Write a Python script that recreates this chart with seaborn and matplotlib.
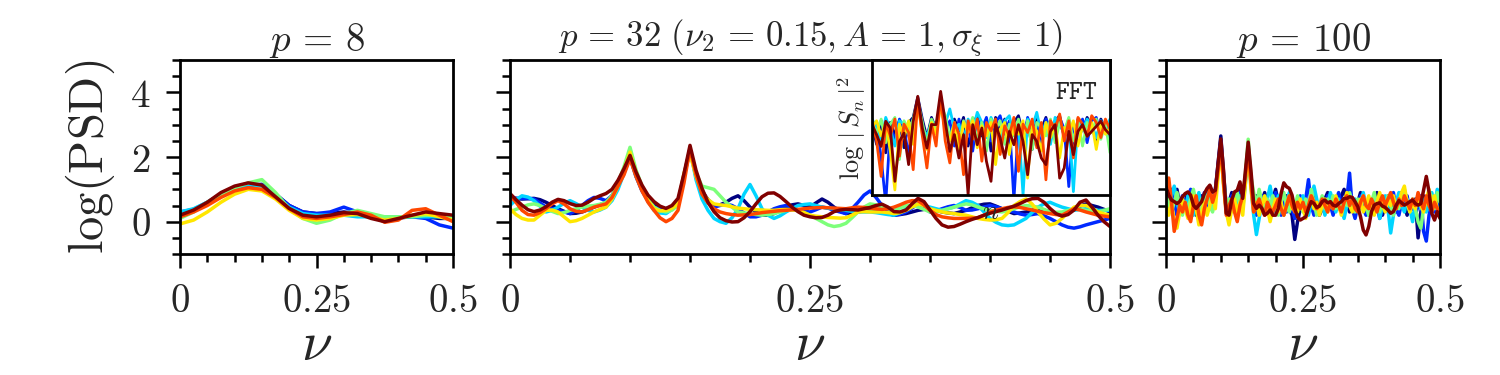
import numpy as np
import pandas as pd
import matplotlib
matplotlib.use("Agg")
import matplotlib.pyplot as plt
from matplotlib.ticker import FixedLocator
import seaborn as sns

sns.set_theme(style="ticks")
plt.rcParams["mathtext.fontset"] = "cm"
plt.rcParams["font.family"] = ["DejaVu Serif"]

# ---------------- data ----------------
SERIES = ["r1", "r2", "r3", "r4", "r5", "r6", "r7"]   # 7 realisations (jet colours)

# p = 8 panel
NU8 = [0.0, 0.025, 0.05, 0.075, 0.1, 0.125, 0.15, 0.175, 0.2, 0.225, 0.25,
       0.275, 0.3, 0.325, 0.35, 0.375, 0.4, 0.425, 0.45, 0.475, 0.5]
P8_R1 = [0.25, 0.35, 0.55, 0.85, 1.05, 1.15, 1.15, 0.85, 0.5, 0.3, 0.25, 0.25, 0.3, 0.25, 0.15, 0.1, 0.12, 0.15, 0.15, 0.1, 0.1]
P8_R2 = [0.3, 0.38, 0.6, 0.85, 1.0, 1.1, 1.15, 0.85, 0.5, 0.3, 0.25, 0.3, 0.45, 0.3, 0.15, 0.1, 0.12, 0.15, 0.1, -0.1, -0.2]
P8_R3 = [0.3, 0.4, 0.6, 0.85, 1.05, 1.15, 1.1, 0.8, 0.45, 0.25, 0.2, 0.2, 0.2, 0.15, 0.15, 0.15, 0.15, 0.15, 0.15, 0.15, 0.15]
P8_R4 = [0.1, 0.3, 0.6, 0.85, 1.05, 1.2, 1.3, 0.9, 0.4, 0.1, -0.05, 0.05, 0.25, 0.35, 0.25, 0.15, 0.15, 0.15, 0.2, 0.2, 0.1]
P8_R5 = [-0.07, 0.05, 0.3, 0.6, 0.85, 1.0, 0.95, 0.7, 0.35, 0.1, 0.05, 0.1, 0.2, 0.22, 0.15, 0.05, 0.1, 0.2, 0.25, 0.15, 0.05]
P8_R6 = [0.15, 0.3, 0.5, 0.75, 0.95, 1.05, 1.0, 0.75, 0.4, 0.15, 0.1, 0.15, 0.22, 0.3, 0.2, -0.02, 0.05, 0.35, 0.4, 0.2, 0.0]
P8_R7 = [0.2, 0.36, 0.6, 0.9, 1.1, 1.2, 1.13, 0.77, 0.41, 0.2, 0.15, 0.2, 0.28, 0.25, 0.1, 0.0, 0.1, 0.2, 0.3, 0.25, 0.2]

# p = 32 panel (grid step 0.005)
NU32 = np.round(np.arange(101) * 0.005, 3)
P32_R1 = [0.75, 0.72, 0.7, 0.71, 0.72, 0.68, 0.6, 0.5, 0.4, 0.32,
          0.25, 0.26, 0.3, 0.37, 0.45, 0.52, 0.6, 0.8, 1.15, 1.55,
          2.0, 1.45, 1.0, 0.7, 0.5, 0.43, 0.4, 0.47, 0.6, 1.45,
          2.25, 1.45, 0.95, 0.68, 0.5, 0.52, 0.6, 0.72, 0.8, 0.65,
          0.45, 0.3, 0.2, 0.2, 0.25, 0.35, 0.45, 0.52, 0.55, 0.5,
          0.45, 0.58, 0.7, 0.6, 0.45, 0.33, 0.25, 0.27, 0.3, 0.33,
          0.35, 0.33, 0.3, 0.25, 0.2, 0.22, 0.25, 0.3, 0.35, 0.38,
          0.4, 0.35, 0.3, 0.27, 0.25, 0.3, 0.35, 0.43, 0.5, 0.54,
          0.55, 0.48, 0.4, 0.32, 0.25, 0.27, 0.3, 0.35, 0.4, 0.36,
          0.3, 0.25, 0.2, 0.3, 0.4, 0.48, 0.55, 0.5, 0.45, 0.38,
          0.3]
P32_R2 = [0.7, 0.72, 0.72, 0.72, 0.7, 0.58, 0.45, 0.4, 0.35, 0.3,
          0.25, 0.35, 0.5, 0.65, 0.75, 0.72, 0.65, 0.8, 1.15, 1.55,
          2.0, 1.4, 0.95, 0.65, 0.45, 0.38, 0.35, 0.42, 0.55, 1.4,
          2.2, 1.4, 0.9, 0.6, 0.45, 0.5, 0.55, 0.5, 0.4, 0.27,
          0.15, 0.15, 0.2, 0.3, 0.4, 0.46, 0.5, 0.45, 0.35, 0.32,
          0.3, 0.37, 0.45, 0.42, 0.35, 0.3, 0.25, 0.4, 0.6, 0.82,
          0.95, 0.75, 0.5, 0.32, 0.2, 0.23, 0.3, 0.42, 0.55, 0.45,
          0.3, 0.33, 0.4, 0.46, 0.5, 0.44, 0.35, 0.36, 0.4, 0.45,
          0.5, 0.46, 0.4, 0.35, 0.3, 0.24, 0.2, 0.22, 0.25, 0.18,
          0.1, 0.0, -0.1, -0.17, -0.2, -0.16, -0.1, -0.05, 0.0, 0.05,
          0.1]
P32_R3 = [0.5, 0.68, 0.8, 0.76, 0.65, 0.48, 0.3, 0.35, 0.45, 0.57,
          0.65, 0.56, 0.45, 0.35, 0.3, 0.36, 0.45, 0.65, 1.0, 1.5,
          2.0, 1.4, 1.0, 0.62, 0.35, 0.27, 0.25, 0.38, 0.6, 1.4,
          2.25, 1.3, 0.7, 0.35, 0.1, 0.0, -0.05, 0.12, 0.4, 0.85,
          1.15, 0.8, 0.4, 0.2, 0.1, 0.18, 0.3, 0.4, 0.5, 0.53,
          0.55, 0.5, 0.45, 0.42, 0.4, 0.37, 0.35, 0.32, 0.3, 0.3,
          0.3, 0.28, 0.25, 0.22, 0.2, 0.28, 0.4, 0.48, 0.55, 0.5,
          0.45, 0.4, 0.35, 0.4, 0.45, 0.55, 0.65, 0.6, 0.5, 0.3,
          0.1, -0.02, -0.1, -0.12, -0.1, 0.0, 0.1, 0.28, 0.45, 0.55,
          0.6, 0.52, 0.45, 0.4, 0.35, 0.38, 0.4, 0.38, 0.35, 0.35,
          0.35]
P32_R4 = [0.3, 0.38, 0.45, 0.52, 0.55, 0.5, 0.4, 0.32, 0.25, 0.28,
          0.35, 0.4, 0.45, 0.48, 0.5, 0.54, 0.6, 0.8, 1.2, 1.7,
          2.3, 1.6, 1.1, 0.7, 0.45, 0.35, 0.3, 0.36, 0.5, 1.4,
          2.2, 1.5, 1.1, 1.05, 1.0, 0.8, 0.6, 0.45, 0.3, 0.27,
          0.25, 0.22, 0.2, 0.22, 0.25, 0.3, 0.35, 0.36, 0.35, 0.28,
          0.2, 0.1, 0.0, -0.1, -0.15, -0.12, -0.05, 0.12, 0.3, 0.45,
          0.55, 0.52, 0.45, 0.4, 0.35, 0.42, 0.5, 0.5, 0.45, 0.38,
          0.3, 0.32, 0.35, 0.4, 0.45, 0.5, 0.55, 0.52, 0.45, 0.4,
          0.35, 0.32, 0.3, 0.34, 0.4, 0.46, 0.5, 0.48, 0.45, 0.38,
          0.3, 0.29, 0.3, 0.35, 0.4, 0.38, 0.35, 0.32, 0.3, 0.35,
          0.4]
P32_R5 = [0.4, 0.22, 0.1, 0.05, 0.05, 0.2, 0.35, 0.36, 0.3, 0.15,
          0.0, 0.03, 0.1, 0.2, 0.3, 0.38, 0.45, 0.7, 1.1, 1.6,
          2.15, 1.5, 1.05, 0.65, 0.4, 0.33, 0.35, 0.42, 0.55, 1.5,
          2.1, 1.4, 0.9, 0.68, 0.55, 0.52, 0.5, 0.46, 0.42, 0.4,
          0.38, 0.37, 0.36, 0.35, 0.35, 0.37, 0.38, 0.37, 0.35, 0.28,
          0.2, 0.17, 0.15, 0.13, 0.12, 0.11, 0.12, 0.2, 0.3, 0.31,
          0.3, 0.3, 0.3, 0.28, 0.25, 0.28, 0.35, 0.45, 0.55, 0.5,
          0.4, 0.35, 0.3, 0.27, 0.25, 0.22, 0.2, 0.15, 0.1, 0.07,
          0.05, 0.06, 0.1, 0.28, 0.5, 0.62, 0.7, 0.55, 0.3, 0.08,
          -0.1, -0.05, 0.1, 0.28, 0.45, 0.5, 0.5, 0.42, 0.3, 0.24,
          0.2]
P32_R6 = [0.82, 0.6, 0.35, 0.22, 0.2, 0.28, 0.4, 0.55, 0.65, 0.55,
          0.4, 0.32, 0.3, 0.37, 0.45, 0.5, 0.55, 0.75, 1.1, 1.45,
          1.95, 1.4, 0.95, 0.6, 0.35, 0.12, 0.0, 0.1, 0.35, 1.2,
          2.26, 1.45, 0.85, 0.58, 0.4, 0.3, 0.25, 0.22, 0.2, 0.21,
          0.22, 0.25, 0.28, 0.3, 0.32, 0.34, 0.35, 0.37, 0.38, 0.4,
          0.42, 0.43, 0.44, 0.43, 0.42, 0.41, 0.4, 0.43, 0.45, 0.44,
          0.42, 0.4, 0.38, 0.4, 0.45, 0.52, 0.6, 0.65, 0.65, 0.52,
          0.35, 0.22, 0.15, 0.12, 0.1, 0.1, 0.1, 0.11, 0.12, 0.2,
          0.3, 0.36, 0.4, 0.44, 0.46, 0.44, 0.4, 0.36, 0.32, 0.28,
          0.25, 0.22, 0.2, 0.3, 0.4, 0.36, 0.3, 0.25, 0.2, 0.17,
          0.15]
P32_R7 = [0.87, 0.68, 0.51, 0.37, 0.31, 0.36, 0.46, 0.6, 0.69, 0.65,
          0.56, 0.5, 0.51, 0.6, 0.72, 0.8, 0.87, 1.0, 1.28, 1.64,
          2.05, 1.54, 1.13, 0.82, 0.62, 0.48, 0.41, 0.5, 0.72, 1.49,
          2.36, 1.59, 1.03, 0.6, 0.31, 0.12, 0.03, -0.01, 0.0, 0.12,
          0.31, 0.55, 0.77, 0.88, 0.89, 0.78, 0.62, 0.45, 0.31, 0.2,
          0.15, 0.12, 0.13, 0.2, 0.31, 0.36, 0.38, 0.37, 0.36, 0.4,
          0.44, 0.5, 0.54, 0.45, 0.31, 0.3, 0.36, 0.55, 0.72, 0.62,
          0.36, 0.1, -0.1, -0.17, -0.15, -0.08, 0.0, 0.07, 0.13, 0.2,
          0.26, 0.31, 0.36, 0.42, 0.48, 0.56, 0.65, 0.71, 0.72, 0.6,
          0.41, 0.25, 0.17, 0.22, 0.36, 0.6, 0.67, 0.45, 0.2, 0.0,
          -0.15]

# FFT inset (index n)
N_FFT = list(range(53))
FFT_R1 = [4.2, 3.0, 4.4, 2.5, 4.3, 3.6, 4.4, 2.8, 4.3, 4.6,
          5.8, 4.5, 3.4, 4.6, 3.9, 5.6, 4.3, 3.2, 4.5, 3.8,
          4.6, 2.9, 4.2, 4.7, 3.5, 4.4, 2.6, 4.6, 3.7, 4.5,
          3.0, 4.3, 4.7, 3.6, 4.4, 2.7, 4.5, 3.9, 4.6, 3.3,
          4.4, 4.7, 3.4, 4.2, 2.9, 4.5, 3.8, 4.6, 4.1, 3.2,
          4.5, 3.9, 4.4]
FFT_R2 = [3.8, 4.3, 2.2, -0.5, 4.0, 3.3, 4.5, 3.9, 2.4, 4.4,
          5.5, 4.2, 3.0, 4.4, 4.0, 5.6, 3.8, 4.4, 2.9, 4.5,
          3.4, 4.2, 2.6, 4.5, 3.9, 4.6, 3.2, 4.3, 4.7, 3.6,
          4.4, -0.3, 4.1, 3.0, 4.6, 3.8, 4.3, 2.8, 4.5, 4.0,
          3.3, 4.6, 3.9, 0.5, 4.2, 3.7, 4.5, 3.1, 4.4, 4.6,
          3.5, 4.3, 3.0]
FFT_R3 = [4.5, 4.0, 3.2, 4.6, 3.9, 2.9, 4.4, 4.2, 3.6, 4.5,
          5.3, 4.0, 3.5, 4.3, 3.8, 5.5, 4.2, 5.1, 3.9, 4.2,
          3.1, 4.5, 3.8, 4.9, 4.3, 3.4, 4.6, 4.0, 3.2, 4.4,
          4.7, 3.5, 4.2, 0.0, 4.5, 4.0, 4.9, 3.6, 4.3, 3.0,
          4.6, 4.1, 3.7, 4.5, 0.2, 4.4, 3.8, 4.5, 4.2, 3.4,
          4.4, 3.9, 4.5]
FFT_R4 = [4.3, 3.7, 4.5, 3.1, 4.2, 4.6, 2.1, 4.4, 3.8, 4.5,
          5.6, 4.3, 3.0, 4.5, 3.9, 5.4, 4.7, 3.4, 4.3, 2.9,
          4.4, 3.8, 4.6, 3.2, 4.3, 2.6, 4.5, 3.9, 4.4, 3.0,
          4.2, 3.6, 4.5, 3.3, 4.4, 2.7, 4.3, 4.0, 3.5, 4.5,
          3.1, 4.3, 3.8, 4.6, 3.2, 4.4, 2.9, 4.3, 3.7, 4.5,
          3.3, 4.2, 2.5]
FFT_R5 = [4.0, 4.4, 3.5, 4.3, 2.6, 0.3, 4.2, 3.4, 4.4, 3.0,
          5.4, 3.6, 2.7, 4.3, 3.6, 5.3, 3.9, 3.2, 4.2, 2.5,
          4.3, 3.7, 4.4, 2.8, 4.1, 3.5, 4.3, 1.8, 3.9, 4.3,
          2.4, 4.2, 3.6, 4.4, 1.0, 4.1, 3.8, 2.6, 4.3, 3.4,
          4.2, 2.2, 4.0, 3.6, 4.4, 2.9, 4.1, 3.5, 4.3, 2.7,
          4.2, 3.6, 4.0]
FFT_R6 = [4.4, 3.2, 1.1, 4.3, 3.5, 4.5, 2.3, 4.2, 3.7, 1.5,
          5.7, 3.5, 1.6, 4.2, 2.9, 5.9, 3.2, 1.9, 4.3, 3.6,
          1.2, 4.4, 3.3, 4.5, 2.0, 4.3, 3.8, 4.5, 2.4, 4.1,
          3.5, 4.6, 1.4, 4.2, 3.7, 4.5, 2.8, 4.3, 0.9, 4.4,
          3.9, 4.8, 3.2, 4.4, 2.2, 4.6, 4.2, 3.5, 4.7, 4.3,
          3.4, 4.5, 3.9]
FFT_R7 = [4.17, 3.58, 2.88, 4.37, 3.97, 0.81, 3.18, 3.67, 1.8, 4.37,
          5.85, 3.97, 2.78, 4.17, 4.17, 6.14, 4.37, 2.58, 3.58, 2.19,
          3.58, 0.02, 4.17, 2.98, 3.97, 2.0, 0.81, 4.17, 3.38, 2.19,
          3.77, 2.98, 4.17, 3.18, 1.2, 3.58, 3.18, 2.19, 1.8, 3.77,
          4.17, 1.0, 1.6, 3.77, 2.39, 3.77, 4.17, 3.48, 3.77, 4.07,
          4.37, 3.87, 3.58]

# p = 100 panel
NU100 = np.round(np.arange(101) * 0.005, 3)
P100_R1 = [0.6, 0.9, 0.4, 0.7, 1.0, 0.5, 0.3, 0.6, 0.9, 0.7,
           0.4, 0.2, 0.5, 0.8, 0.6, 0.9, 1.1, 0.7, 0.9, 1.8,
           2.65, 1.5, 0.4, 0.6, 0.9, 0.5, 0.7, 1.0, 0.6, 1.4,
           2.3, 1.3, 0.5, 0.8, 0.4, 0.6, 0.9, 0.5, 0.3, 0.7,
           1.0, 0.6, 0.3, 0.5, 0.8, 0.4, 0.2, -0.55, 0.0, 0.4,
           0.7, 0.5, 0.3, 0.6, 0.9, 0.5, 0.2, 0.4, 0.7, 0.9,
           0.5, 0.3, 0.6, 0.4, 0.8, 1.0, 0.6, 0.3, 0.5, 0.2,
           0.6, 0.9, 0.5, 0.3, 0.7, 0.4, 0.6, 0.9, 0.5, 0.2,
           0.5, 0.8, 0.4, 0.6, 0.3, 0.7, 0.9, 0.5, 0.2, 0.6,
           0.4, 0.7, -0.5, 0.3, 0.8, 0.6, 0.4, 0.7, 0.5, 0.6,
           0.4]
P100_R2 = [0.3, 0.7, 1.0, 0.6, 0.2, 0.5, 0.8, 0.4, 0.7, 1.0,
           0.6, 0.3, 0.7, 0.5, 0.9, 0.6, 0.4, 0.8, 1.0, 1.7,
           2.5, 1.3, 0.3, 0.5, 0.8, 0.4, 0.6, 0.9, 0.5, 1.3,
           2.4, 1.2, 0.6, 0.2, 0.5, 0.8, 0.4, 0.7, 0.3, 0.6,
           0.9, 0.5, 0.2, 0.6, 0.3, 0.7, 0.4, 0.1, 0.5, 0.8,
           0.4, 0.7, 1.3, 0.5, 0.2, 0.6, 0.3, 0.7, 0.4, 0.8,
           0.5, 0.2, 0.6, 0.9, 0.5, 0.3, 0.7, 1.5, 0.4, 0.1,
           0.5, 0.8, 0.4, 0.2, 0.6, 0.3, 0.7, 0.5, 0.1, 0.4,
           0.7, 0.3, 0.6, 0.9, 0.4, 0.2, 0.6, 0.4, 0.8, 0.3,
           0.6, 0.2, 0.5, 0.8, -0.3, -0.6, 0.2, 0.6, 0.3, 0.7,
           0.5]
P100_R3 = [0.9, 0.5, 0.8, 1.1, 0.6, 0.3, 0.7, 0.4, 0.8, 0.5,
           0.2, 0.6, 0.9, 0.4, 0.7, 1.0, 0.6, 0.4, 0.8, 1.6,
           2.4, 1.4, 0.5, 0.2, 0.6, 0.9, 0.5, 0.8, 0.4, 1.2,
           2.3, 1.1, 0.2, -0.4, 0.1, 0.6, 0.3, 0.7, 1.1, 0.6,
           0.3, 0.8, 0.5, 0.2, 0.6, 0.9, 0.5, 0.3, 0.7, 0.4,
           0.8, 0.5, 0.2, 0.6, 1.1, 0.7, 0.3, 0.6, 0.2, 0.5,
           0.9, 0.6, 0.3, 0.7, 0.4, 0.1, 0.5, 0.8, 0.4, 0.7,
           0.3, 0.6, 0.9, 0.5, 0.2, 0.6, 0.4, 0.7, 0.1, 0.5,
           0.8, 0.4, -0.35, 0.2, 0.6, 0.9, 0.5, 0.3, 0.7, 0.4,
           0.0, 0.5, 0.8, 0.4, 0.7, 0.3, 0.6, 0.9, 0.5, 1.0,
           0.7]
P100_R4 = [0.4, 0.7, 0.3, 0.6, 0.9, 0.5, 0.2, 0.6, 0.4, 0.7,
           1.0, 0.6, 0.3, 0.7, 0.5, 0.8, 0.5, 0.3, 0.7, 1.5,
           2.3, 1.2, 0.4, 0.7, 0.3, 0.6, 0.9, 0.5, 0.7, 1.5,
           2.55, 1.4, 0.9, 0.5, 1.0, 0.6, 0.3, 0.7, 0.4, 0.8,
           0.5, 0.2, 0.6, 0.9, 0.5, 0.3, 0.7, 0.4, 0.8, 0.6,
           0.3, 0.7, 0.4, 1.0, 0.6, 0.2, 0.5, 0.8, 0.4, 0.7,
           0.5, 0.8, 0.4, 0.6, 0.3, 0.7, 0.5, 0.9, 0.6, 0.3,
           0.7, 0.4, 0.8, 0.5, 0.2, 0.6, 0.9, 0.5, 0.3, 0.7,
           0.4, 0.8, 0.5, 0.2, 0.6, 0.4, 0.8, 1.0, 0.6, 0.3,
           0.7, 0.4, 0.0, -0.2, 0.4, 0.7, 0.5, 0.8, 0.4, 0.9,
           0.6]
P100_R5 = [0.5, 0.2, 0.6, 0.0, -0.2, 0.3, 0.7, 0.4, 0.1, 0.5,
           0.8, 0.4, -0.1, 0.3, 0.6, 0.2, 0.5, 0.8, 0.4, 1.4,
           2.3, 1.1, 0.3, -0.1, 0.4, 0.7, 0.3, 0.6, 0.2, 1.2,
           2.2, 1.0, 0.3, 0.6, 0.2, 0.5, 0.8, 0.4, 0.0, 0.4,
           0.7, 0.3, 0.6, 0.2, 0.5, 0.8, 0.4, 0.6, 0.3, 0.7,
           0.4, 0.1, 0.5, 0.8, 0.4, 0.6, 0.2, 0.5, 0.7, 0.3,
           0.6, 0.4, 0.8, 0.5, 0.2, 0.6, 0.9, 0.5, 0.3, 0.6,
           0.4, 0.7, 0.3, 0.5, 0.8, 0.4, 0.2, 0.6, 0.9, 0.5,
           0.3, 0.7, 0.5, 0.8, 0.4, 0.6, 0.9, 1.1, 0.6, 0.3,
           0.6, 0.4, 0.7, 0.5, 0.3, 0.7, 1.0, 0.5, 0.8, 0.4,
           0.3]
P100_R6 = [1.0, 1.35, 0.6, -0.3, 0.1, 0.5, 0.3, 0.6, 0.2, 0.0,
           0.5, 0.8, 0.2, -0.1, 0.4, 0.7, 1.0, 0.6, 0.9, 1.6,
           2.4, 1.2, 0.2, 0.5, 0.7, 0.3, 0.0, 0.5, 0.8, 1.4,
           2.3, 1.2, 0.3, 0.5, 0.7, 0.4, 0.2, 0.6, 0.4, 0.3,
           0.5, 0.7, 0.4, 0.2, 0.5, 0.8, 0.5, 0.3, 0.6, 0.4,
           0.6, 0.3, 0.5, 0.8, 0.6, 0.4, 0.5, 0.7, 0.5, 0.3,
           0.6, 0.4, 0.7, 0.5, 0.3, 0.6, 0.8, 0.5, 0.7, 0.4,
           0.3, 0.6, 0.8, 0.5, 0.4, 0.7, 0.5, 0.3, 0.6, 0.8,
           0.5, 0.7, 0.9, 0.6, 0.4, 0.7, 0.5, 0.8, 0.6, 0.4,
           0.7, 0.5, 0.9, 0.6, 0.4, 0.8, 0.5, 0.3, 0.6, 0.4,
           0.2]
P100_R7 = [1.08, 0.82, 0.67, 0.62, 0.56, 0.62, 0.77, 0.87, 0.92, 0.82,
           0.51, 0.41, 0.51, 0.62, 0.87, 1.03, 1.13, 0.92, 0.97, 1.79,
           2.56, 1.59, 0.26, 0.2, 0.67, 0.92, 0.97, 1.23, 0.72, 1.59,
           2.46, 1.59, 0.56, 0.41, 0.51, 0.41, 0.2, 0.26, 0.36, 0.2,
           0.2, 0.41, 0.87, 1.2, 1.08, 1.03, 0.82, 0.41, 0.15, 0.05,
           0.1, 0.15, 0.41, 0.62, 0.56, 0.44, 0.48, 0.62, 0.67, 0.58,
           0.62, 0.51, 0.48, 0.56, 0.62, 0.72, 0.72, 0.77, 0.75, 0.62,
           0.46, 0.15, -0.26, -0.41, -0.15, 0.31, 0.51, 0.56, 0.58, 0.48,
           0.44, 0.36, 0.26, 0.31, 0.51, 0.65, 0.58, 0.51, 0.56, 0.62,
           0.67, 0.56, 0.51, 0.56, 0.97, 1.4, 0.92, 0.26, 0.05, 0.31,
           0.1]

X_TICKS = [0.0, 0.25, 0.5]
X_TICKLABELS = ["$0$", "$0.25$", "$0.5$"]
Y_TICKS = [0, 2, 4]
Y_TICKLABELS = ["$0$", "$2$", "$4$"]
TITLES = [r"$p\,=\,8$",
          r"$p\,=\,32\ (\nu_2\,=\,0.15, A\,=\,1, \sigma_\xi\,=\,1)$",
          r"$p\,=\,100$"]


def long_frame(x, series_list):
    rows = []
    for name, vals in zip(SERIES, series_list):
        rows.append(pd.DataFrame({"x": x, "y": vals, "run": name}))
    return pd.concat(rows, ignore_index=True)


df8 = long_frame(NU8, [P8_R1, P8_R2, P8_R3, P8_R4, P8_R5, P8_R6, P8_R7])
df32 = long_frame(NU32, [P32_R1, P32_R2, P32_R3, P32_R4, P32_R5, P32_R6, P32_R7])
df100 = long_frame(NU100, [P100_R1, P100_R2, P100_R3, P100_R4, P100_R5, P100_R6, P100_R7])
dffft = long_frame(N_FFT, [FFT_R1, FFT_R2, FFT_R3, FFT_R4, FFT_R5, FFT_R6, FFT_R7])

# ---------------- style ----------------
jet = plt.get_cmap("jet")
palette = {name: jet(i / 6) for i, name in enumerate(SERIES)}

W, H = 1500, 375
fig = plt.figure(figsize=(15, 3.75), dpi=100)


def px_axes(x0, x1, y0, y1):
    return fig.add_axes([x0 / W, 1 - y1 / H, (x1 - x0) / W, (y1 - y0) / H])


ax1 = px_axes(180, 453, 60, 254)
ax2 = px_axes(510, 1110, 60, 254)
ax3 = px_axes(1166, 1440, 60, 254)

for ax, df, title in zip([ax1, ax2, ax3], [df8, df32, df100], TITLES):
    sns.lineplot(data=df, x="x", y="y", hue="run", palette=palette, legend=False,
                 estimator=None, sort=False, lw=2.5, ax=ax)
    ax.set_xlim(0, 0.5)
    ax.set_ylim(-1, 5)
    ax.set_xticks(X_TICKS)
    ax.set_xticklabels(X_TICKLABELS)
    ax.xaxis.set_minor_locator(FixedLocator([i * 0.05 for i in range(11)]))
    ax.set_yticks(Y_TICKS)
    ax.yaxis.set_minor_locator(FixedLocator([-1 + 0.5 * i for i in range(13)]))
    ax.tick_params(axis="both", which="major", direction="out", length=10, width=1.8,
                   labelsize=28, pad=11, color="black")
    ax.tick_params(axis="both", which="minor", direction="out", length=6, width=1.8,
                   color="black")
    for s in ax.spines.values():
        s.set_linewidth(2.0)
        s.set_color("black")
        s.set_visible(True)
    ax.set_xlabel(r"$\nu$", fontsize=40, labelpad=-2)
    ax.set_ylabel("")
    ax.set_title(title, fontsize=28 if ax is not ax2 else 25, pad=6)

ax1.set_yticklabels(Y_TICKLABELS)
ax2.set_yticklabels([])
ax3.set_yticklabels([])
ax1.set_ylabel(r"$\log(\mathrm{PSD})$", fontsize=35, labelpad=10)

# inset
axin = px_axes(872, 1110, 60, 195)
axin.set_facecolor("white")
sns.lineplot(data=dffft, x="x", y="y", hue="run", palette=palette, legend=False,
             estimator=None, sort=False, lw=2.0, ax=axin)
axin.set_xlim(0, 52)
axin.set_ylim(0, 8)
axin.set_xticks([])
axin.set_yticks([])
for s in axin.spines.values():
    s.set_linewidth(2.0)
    s.set_color("black")
axin.set_xlabel("$n$", fontsize=19, labelpad=3)
axin.set_ylabel(r"$\log\,|\,S_n\,|^2$", fontsize=19, labelpad=3)
axin.text(0.95, 0.86, r"$\mathtt{FFT}$", transform=axin.transAxes, ha="right",
          va="top", fontsize=19)

fig.savefig("out.png", dpi=100)
